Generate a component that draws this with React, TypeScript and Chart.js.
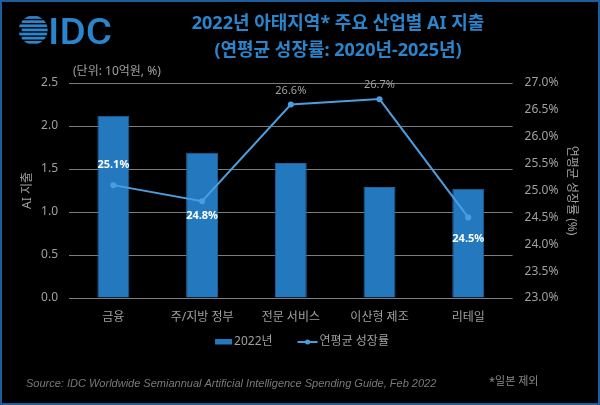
import { useEffect, useRef } from "react";
import { Chart, registerables } from "chart.js";

Chart.register(...registerables);

// Industries and their 2022 spending (KRW, billions) with 2020–2025 CAGR (%)
const industries = ["금융", "주/지방 정부", "전문 서비스", "이산형 제조", "리테일"];
const spending2022 = [2.12, 1.69, 1.57, 1.29, 1.27];
const cagr = [25.1, 24.8, 26.6, 26.7, 24.5];

// Where each CAGR label sits relative to its point, and whether it is emphasised
const cagrLabelAbove = [true, false, true, true, false];
const cagrLabelEmphasis = [true, true, false, false, true];

const titleLines = ["2022년 아태지역* 주요 산업별 AI 지출", "(연평균 성장률: 2020년-2025년)"];
const unitNote = "(단위: 10억원, %)";
const leftAxisTitle = "AI 지출";
const rightAxisTitle = "연평균 성장률 (%)";
const barSeriesName = "2022년";
const lineSeriesName = "연평균 성장률";
const sourceNote = "Source: IDC Worldwide Semiannual Artificial Intelligence Spending Guide, Feb 2022";
const footNote = "*일본 제외";

const FONT = '"Noto Sans", "Noto Sans CJK KR", sans-serif';
const BLUE_TITLE = "#2b85cc";
const BAR_BLUE = "#2478be";
const LINE_BLUE = "#4a9edf";
const TEXT_GRAY = "#a0a0a0";
const GRID_GRAY = "#7c7c7c";

function drawLogo(ctx: CanvasRenderingContext2D) {
  const cx = 33.2;
  const cy = 30;
  const r = 14.5;
  ctx.save();
  ctx.beginPath();
  ctx.arc(cx, cy, r, 0, Math.PI * 2);
  ctx.clip();
  ctx.fillStyle = BLUE_TITLE;
  const stripes = 7;
  const pitch = (2 * r) / stripes;
  for (let i = 0; i < stripes; i++) {
    const y = cy - r + i * pitch + 0.6;
    const shift = i % 2 === 0 ? 0 : 3;
    ctx.fillRect(cx - r + shift, y, 2 * r, pitch - 1.4);
  }
  ctx.restore();

  ctx.save();
  ctx.fillStyle = BLUE_TITLE;
  ctx.font = '500 37px Roboto, "Liberation Sans", Arial, sans-serif';
  ctx.textBaseline = "alphabetic";
  ctx.textAlign = "left";
  const w = ctx.measureText("IDC").width;
  const target = 64;
  ctx.translate(48, 44);
  ctx.scale(target / w, 1);
  ctx.fillText("IDC", 0, 0);
  ctx.restore();
}

const overlayPlugin = {
  id: "overlay",
  beforeDraw(chart: Chart) {
    const ctx = chart.ctx;
    ctx.save();
    ctx.fillStyle = "#000";
    ctx.fillRect(0, 0, chart.width, chart.height);
    ctx.restore();
  },
  afterDraw(chart: Chart) {
    const ctx = chart.ctx;
    const area = chart.chartArea;
    ctx.save();

    // frame
    ctx.strokeStyle = "#1c5d9e";
    ctx.lineWidth = 2;
    ctx.strokeRect(1, 1, chart.width - 2, chart.height - 2);

    drawLogo(ctx);

    // title
    ctx.fillStyle = BLUE_TITLE;
    ctx.font = `bold 18px ${FONT}`;
    ctx.textAlign = "center";
    ctx.textBaseline = "middle";
    ctx.fillText(titleLines[0], 338, 24);
    ctx.fillText(titleLines[1], 338, 51);

    // unit note
    ctx.fillStyle = TEXT_GRAY;
    ctx.font = `12px ${FONT}`;
    ctx.textAlign = "left";
    ctx.fillText(unitNote, 73, 72);

    // axis titles
    const midY = (area.top + area.bottom) / 2;
    ctx.save();
    ctx.translate(28, midY);
    ctx.rotate(-Math.PI / 2);
    ctx.textAlign = "center";
    ctx.fillText(leftAxisTitle, 0, 0);
    ctx.restore();
    ctx.save();
    ctx.translate(571, midY);
    ctx.rotate(Math.PI / 2);
    ctx.textAlign = "center";
    ctx.fillText(rightAxisTitle, 0, 0);
    ctx.restore();

    // CAGR value labels
    const meta = chart.getDatasetMeta(1);
    meta.data.forEach((pt, i) => {
      const strong = cagrLabelEmphasis[i];
      ctx.font = `${strong ? "bold " : ""}11px ${FONT}`;
      ctx.fillStyle = strong ? "#ffffff" : TEXT_GRAY;
      ctx.textAlign = "center";
      const dy = cagrLabelAbove[i] ? (strong ? -20 : -14) : i === 4 ? 21 : 15;
      ctx.fillText(`${cagr[i].toFixed(1)}%`, pt.x, pt.y + dy);
    });

    // legend
    ctx.font = `12px ${FONT}`;
    ctx.textAlign = "left";
    const w1 = ctx.measureText(barSeriesName).width;
    const w2 = ctx.measureText(lineSeriesName).width;
    const total = 17 + 2 + w1 + 25 + 20 + 2 + w2;
    const ly = 342;
    let x = 302 - total / 2;
    ctx.fillStyle = BAR_BLUE;
    ctx.fillRect(x, ly - 3, 17, 5.5);
    x += 19;
    ctx.fillStyle = TEXT_GRAY;
    ctx.fillText(barSeriesName, x, ly);
    x += w1 + 25;
    ctx.strokeStyle = LINE_BLUE;
    ctx.lineWidth = 2;
    ctx.beginPath();
    ctx.moveTo(x, ly);
    ctx.lineTo(x + 20, ly);
    ctx.stroke();
    ctx.fillStyle = LINE_BLUE;
    ctx.beginPath();
    ctx.arc(x + 10, ly, 2.5, 0, Math.PI * 2);
    ctx.fill();
    x += 22;
    ctx.fillStyle = TEXT_GRAY;
    ctx.fillText(lineSeriesName, x, ly);

    // source and footnote
    ctx.fillStyle = "#7a7a7a";
    ctx.font = 'italic 11px "Liberation Sans", Arial, sans-serif';
    ctx.fillText(sourceNote, 26, 384);
    ctx.fillStyle = "#8a8a8a";
    ctx.font = `11px ${FONT}`;
    ctx.fillText(footNote, 489, 382);

    ctx.restore();
  },
};

export default function App() {
  const canvasRef = useRef<HTMLCanvasElement | null>(null);

  useEffect(() => {
    const canvas = canvasRef.current;
    if (!canvas) return;
    const chart = new Chart(canvas, {
      type: "bar",
      data: {
        labels: industries,
        datasets: [
          {
            type: "bar",
            label: barSeriesName,
            data: spending2022,
            yAxisID: "y",
            backgroundColor: BAR_BLUE,
            borderColor: "#1e639c",
            borderWidth: 1,
            barPercentage: 0.36,
            categoryPercentage: 1,
            order: 2,
          },
          {
            type: "line",
            label: lineSeriesName,
            data: cagr,
            yAxisID: "y1",
            borderColor: LINE_BLUE,
            backgroundColor: LINE_BLUE,
            borderWidth: 2,
            pointRadius: 3,
            pointBackgroundColor: LINE_BLUE,
            pointBorderWidth: 0,
            tension: 0,
            order: 1,
          },
        ],
      },
      options: {
        responsive: false,
        animation: false,
        devicePixelRatio: 1,
        layout: { padding: { top: 83, left: 0, right: 0, bottom: 0 } },
        plugins: {
          legend: { display: false },
          title: { display: false },
          tooltip: { enabled: false },
        },
        scales: {
          x: {
            grid: { display: false, drawTicks: false },
            border: { display: false },
            ticks: { color: TEXT_GRAY, font: { size: 12, family: FONT }, padding: 12 },
            afterFit: (scale: any) => {
              scale.height = 107;
            },
          },
          y: {
            position: "left",
            min: 0,
            max: 2.5,
            grid: { color: GRID_GRAY, drawTicks: false, lineWidth: 1 },
            border: { display: false },
            ticks: {
              stepSize: 0.5,
              color: TEXT_GRAY,
              font: { size: 12, family: FONT },
              padding: 11,
              callback: (v: any) => Number(v).toFixed(1),
            },
            afterFit: (scale: any) => {
              scale.width = 69;
            },
          },
          y1: {
            position: "right",
            min: 23,
            max: 27,
            grid: { display: false, drawTicks: false },
            border: { display: false },
            ticks: {
              stepSize: 0.5,
              color: TEXT_GRAY,
              font: { size: 12, family: FONT },
              padding: 12,
              callback: (v: any) => `${Number(v).toFixed(1)}%`,
            },
            afterFit: (scale: any) => {
              scale.width = 87.4;
            },
          },
        },
      },
      plugins: [overlayPlugin],
    });
    return () => chart.destroy();
  }, []);

  return (
    <div style={{ position: "fixed", left: 0, top: 0, width: 600, height: 405, background: "#000" }}>
      <canvas ref={canvasRef} width={600} height={405} style={{ display: "block" }} />
    </div>
  );
}
